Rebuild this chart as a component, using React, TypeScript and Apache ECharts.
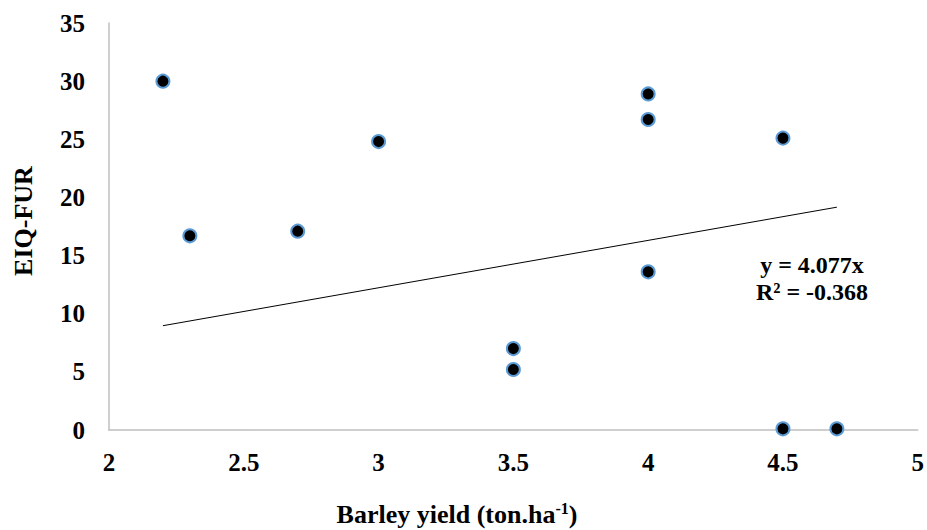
import React, { useEffect, useRef } from "react";
import * as echarts from "echarts";

const xValues = [2.2, 2.3, 2.7, 3.0, 3.5, 3.5, 4.0, 4.0, 4.0, 4.5, 4.5, 4.7];
const yValues = [30.0, 16.7, 17.1, 24.8, 7.0, 5.2, 28.9, 26.7, 13.6, 25.1, 0.1, 0.1];
const trendSlope = 4.077;
const trendX = [2.2, 4.7];
const equationLines = ["y = 4.077x", "R² = -0.368"];
const xTitle = "Barley yield (ton.ha{sup|-1})";
const yTitle = "EIQ-FUR";

const FONT = "'Liberation Serif', 'Times New Roman', serif";

export default function App() {
  const ref = useRef<HTMLDivElement>(null);
  useEffect(() => {
    if (!ref.current) return;
    const chart = echarts.init(ref.current, undefined, { renderer: "svg" });
    const points = xValues.map((x, i) => [x, yValues[i]]);
    const trend = trendX.map((x) => [x, trendSlope * x]);
    chart.setOption({
      animation: false,
      backgroundColor: "#ffffff",
      grid: { left: 109, right: 9, top: 23, bottom: 100 },
      xAxis: {
        type: "value",
        min: 2,
        max: 5,
        interval: 0.5,
        axisLine: { show: true, lineStyle: { color: "#bfbfbf", width: 1.5 } },
        axisTick: { show: false },
        splitLine: { show: false },
        axisLabel: {
          color: "#000",
          fontFamily: FONT,
          fontWeight: "bold",
          fontSize: 25,
          margin: 20,
        },
      },
      yAxis: {
        type: "value",
        min: 0,
        max: 35,
        interval: 5,
        axisLine: { show: true, lineStyle: { color: "#bfbfbf", width: 1.5 } },
        axisTick: { show: false },
        splitLine: { show: false },
        axisLabel: {
          color: "#000",
          fontFamily: FONT,
          fontWeight: "bold",
          fontSize: 25,
          margin: 24,
        },
      },
      series: [
        {
          type: "line",
          data: trend,
          symbol: "none",
          lineStyle: { color: "#000", width: 1 },
          z: 1,
        },
        {
          type: "scatter",
          data: points,
          symbol: "circle",
          symbolSize: 13,
          itemStyle: {
            color: "#000",
            borderColor: "#5b9bd5",
            borderWidth: 2,
            opacity: 1,
          },
          z: 2,
        },
      ],
      graphic: [
        {
          type: "text",
          x: 457,
          y: 514,
          style: {
            text: xTitle,
            fill: "#000",
            font: `bold 26px ${FONT}`,
            textAlign: "center",
            textVerticalAlign: "middle",
            rich: {
              sup: {
                fill: "#000",
                font: `bold 16px ${FONT}`,
                verticalAlign: "top",
                padding: [0, 0, 12, 0],
              },
            },
          },
        },
        {
          type: "text",
          x: 23,
          y: 221,
          rotation: Math.PI / 2,
          style: {
            text: yTitle,
            fill: "#000",
            font: `bold 26px ${FONT}`,
            textAlign: "center",
            textVerticalAlign: "middle",
          },
        },
        {
          type: "text",
          x: 812,
          y: 265,
          style: {
            text: equationLines[0],
            fill: "#000",
            font: `bold 24px ${FONT}`,
            textAlign: "center",
            textVerticalAlign: "middle",
          },
        },
        {
          type: "text",
          x: 812,
          y: 292,
          style: {
            text: equationLines[1],
            fill: "#000",
            font: `bold 24px ${FONT}`,
            textAlign: "center",
            textVerticalAlign: "middle",
          },
        },
      ],
    });
    return () => chart.dispose();
  }, []);
  return (
    <div
      ref={ref}
      style={{ position: "fixed", left: 0, top: 0, width: 927, height: 530 }}
    />
  );
}
